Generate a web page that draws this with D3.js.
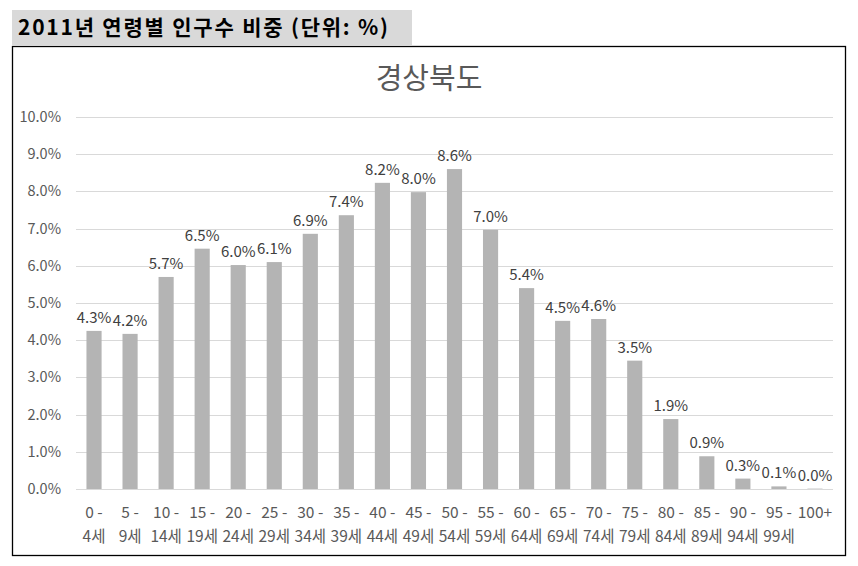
<!DOCTYPE html>
<html><head><meta charset="utf-8">
<script src="https://cdn.jsdelivr.net/npm/d3@7"></script>
<style>body{margin:0;background:#fff;font-family:"Noto Sans CJK KR","Noto Sans",sans-serif;}</style>
</head><body><svg id="c" width="858" height="566"></svg>
<script>
const headerTitle = "2011년 연령별 인구수 비중 (단위: %)";
const chartTitle = "경상북도";
const catStart = ["0 -","5 -","10 -","15 -","20 -","25 -","30 -","35 -","40 -","45 -","50 -","55 -","60 -","65 -","70 -","75 -","80 -","85 -","90 -","95 -","100+"];
const catEnd = ["4세","9세","14세","19세","24세","29세","34세","39세","44세","49세","54세","59세","64세","69세","74세","79세","84세","89세","94세","99세",""];
const values = [4.25,4.17,5.70,6.46,6.02,6.10,6.86,7.36,8.23,7.98,8.60,6.97,5.40,4.52,4.57,3.45,1.88,0.88,0.28,0.07,0.01];
const yTicks = [0,1,2,3,4,5,6,7,8,9,10];

const svg = d3.select("#c");
const font = '"Noto Sans CJK KR","Noto Sans",sans-serif';
// header
svg.append("rect").attr("x",12).attr("y",10).attr("width",400).attr("height",35).attr("fill","#d9d9d9");
svg.append("text").attr("x",18).attr("y",35).attr("font-size",21).attr("font-weight","bold").attr("fill","#000").attr("font-family",font)
  .attr("textLength",370).attr("lengthAdjust","spacing").text(headerTitle);
// frame
svg.append("rect").attr("x",12.5).attr("y",46.5).attr("width",833).attr("height",509).attr("fill","#fff").attr("stroke","#000").attr("stroke-width",1.3);
svg.append("text").attr("x",429).attr("y",89).attr("text-anchor","middle").attr("font-size",29).attr("fill","#595959").attr("font-family",font)
  .text(chartTitle);

const x = d3.scaleBand().domain(catStart.map((d,i)=>i)).range([76,833]).paddingInner(0.58).paddingOuter(0.29);
const y = d3.scaleLinear().domain([0,10]).range([489,117]);

const g = svg.append("g");
g.selectAll("line.grid").data(yTicks).join("line").attr("class","grid")
  .attr("x1",76).attr("x2",833).attr("y1",d=>Math.round(y(d))+0.5).attr("y2",d=>Math.round(y(d))+0.5)
  .attr("stroke","#d9d9d9").attr("stroke-width",1);
g.selectAll("text.yl").data(yTicks).join("text").attr("class","yl")
  .attr("x",61).attr("y",d=>y(d)+5).attr("text-anchor","end").attr("font-size",14.5).attr("fill","#595959").attr("font-family",font)
  .text(d=>d.toFixed(1)+"%");

g.selectAll("rect.bar").data(values).join("rect").attr("class","bar")
  .attr("x",(d,i)=>x(i)).attr("width",x.bandwidth()).attr("y",d=>y(d)).attr("height",d=>y(0)-y(d)).attr("fill","#b4b4b4");
g.selectAll("text.dl").data(values).join("text").attr("class","dl")
  .attr("x",(d,i)=>x(i)+x.bandwidth()/2).attr("y",d=>y(d)-8).attr("text-anchor","middle").attr("font-size",15).attr("fill","#404040").attr("font-family",font)
  .text(d=>d.toFixed(1)+"%");

g.selectAll("text.x1").data(catStart).join("text").attr("class","x1")
  .attr("x",(d,i)=>x(i)+x.bandwidth()/2).attr("y",518).attr("text-anchor","middle").attr("font-size",15.5).attr("fill","#595959").attr("font-family",font).text(d=>d);
g.selectAll("text.x2").data(catEnd).join("text").attr("class","x2")
  .attr("x",(d,i)=>x(i)+x.bandwidth()/2).attr("y",542).attr("text-anchor","middle").attr("font-size",15.5).attr("fill","#595959").attr("font-family",font).text(d=>d);
</script></body></html>
